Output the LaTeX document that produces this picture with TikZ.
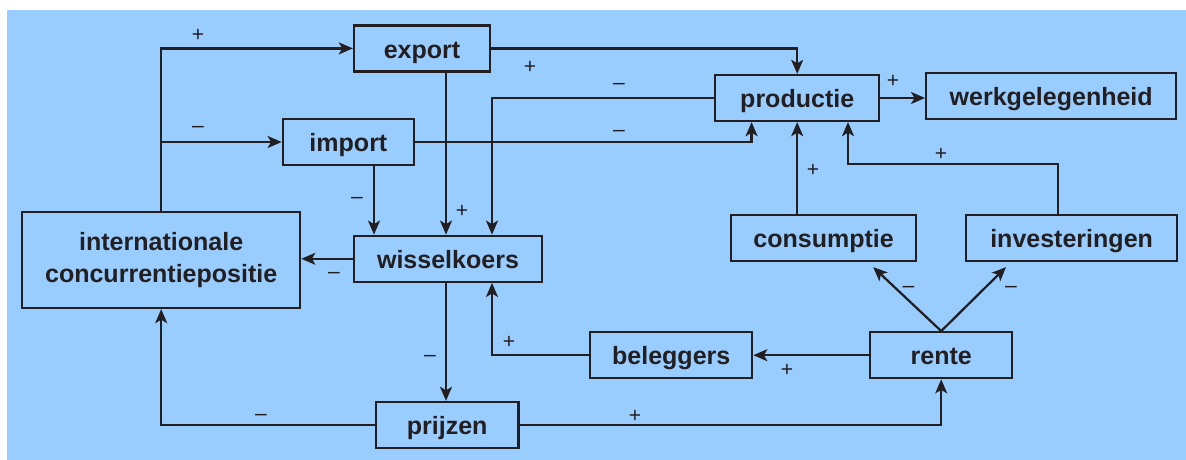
\documentclass[tikz,border=0pt]{standalone}
\usepackage{fontspec}
\setmainfont{Liberation Sans}
\usetikzlibrary{
    arrows.meta,             % For the arrow tips
    positioning,             % For relative placement of nodes
    calc                     % For coordinate calculations
}

\definecolor{skyblue}{RGB}{153,204,255}
\definecolor{inkline}{RGB}{35,31,32}

\begin{document}
\begin{tikzpicture}[
    font=\fontsize{17.8}{22}\selectfont\bfseries,
    box/.style={draw=inkline, line width=1.6pt, minimum height=1.15cm,
                inner sep=0pt, align=center, text=inkline,
                text height=15.8pt, text depth=2pt},
    link/.style={draw=inkline, line width=1.6pt,
                 -{Stealth[length=10pt, width=8.5pt, inset=2.5pt]}},
    sign/.style={font=\fontsize{15}{17}\selectfont, text=inkline, inner sep=0pt}
]
    % --- Background ---
    \useasboundingbox (0,0) rectangle (29.65,11.5);
    \fill[skyblue] (0.175,0) rectangle (29.65,11.25);

    % --- The Boxes ---
    \node[box, minimum width=3.4cm]  (export)     at (10.55,10.29) {export};
    \node[box, minimum width=3.28cm] (import)     at (8.71,7.95)   {import};
    \node[box, minimum width=4.1cm]  (productie)  at (19.93,9.05)  {productie};
    \node[box, minimum width=6.25cm] (werk)       at (26.28,9.1)   {werkgelegenheid};
    \node[box, minimum width=6.95cm, minimum height=2.4cm,
          text height=, text depth=]
                                     (concurrentie) at (4.03,5.0)
                                     {internationale\\[1pt]concurrentiepositie};
    \node[box, minimum width=4.7cm]  (wissel)     at (11.2,5.03)   {wisselkoers};
    \node[box, minimum width=4.63cm] (consumptie) at (20.59,5.55)  {consumptie};
    \node[box, minimum width=5.28cm] (invest)     at (26.79,5.55)  {investeringen};
    \node[box, minimum width=4.05cm] (beleggers)  at (16.78,2.62)  {beleggers};
    \node[box, minimum width=3.55cm] (rente)      at (23.53,2.62)  {rente};
    \node[box, minimum width=3.56cm] (prijzen)    at (11.18,0.875) {prijzen};

    % --- Entry points that sit off the box centres ---
    \coordinate (wImp)  at ([xshift=-1.85cm]wissel.north);
    \coordinate (wExp)  at ([xshift=-0.05cm]wissel.north);
    \coordinate (wProd) at ([xshift=1.1cm]wissel.north);
    \coordinate (wDown) at ([xshift=-0.05cm]wissel.south);
    \coordinate (wBel)  at ([xshift=1.1cm]wissel.south);
    \coordinate (pImp)  at ([xshift=-1.14cm]productie.south);
    \coordinate (pInv)  at ([xshift=1.27cm]productie.south);
    \coordinate (iTop)  at ([xshift=-0.34cm]invest.north);

    % --- Upper half ---
    \draw[link] (concurrentie.north) |- (export.west);
    \draw[link] (concurrentie.north) |- (import.west);
    \draw[link] (export.east) -| (productie.north);
    \draw[link] (export.south -| wExp) -- (wExp);
    \draw[link] (import.south -| wImp) -- (wImp);
    \draw[link] (import.east) -| (pImp);
    \draw[link] (productie.west) -| (wProd);
    \draw[link] (productie.east) -- (productie.east -| werk.west);
    \draw[link] (consumptie.north -| productie.south) -- (productie.south);
    \draw[link] (iTop) -- ++(0,1.25) -| (pInv);

    % --- Lower half ---
    \draw[link] (wissel.west) -- (wissel.west -| concurrentie.east);
    \draw[link] (wDown) -- (wDown |- prijzen.north);
    \draw[link] (prijzen.west) -| (concurrentie.south);
    \draw[link] (prijzen.east) -| (rente.south);
    \draw[link] (rente.west) -- (rente.west -| beleggers.east);
    \draw[link] (beleggers.west) -| (wBel);
    \draw[link] (rente.north) -- ([xshift=1.24cm, yshift=-0.125cm]consumptie.south);
    \draw[link] (rente.north) -- ([xshift=-1.64cm, yshift=-0.125cm]invest.south);

    % --- Signs on the arrows ---
    \node[sign] (sgExp)   at (4.95,10.625)  {+};
    \node[sign] (sgImp)   at (4.95,8.275)   {–};
    \node[sign] (sgExPr)  at (13.25,9.825)  {+};
    \node[sign] (sgImWi)  at (8.925,6.5)    {–};
    \node[sign] (sgExWi)  at (11.55,6.225)  {+};
    \node[sign] (sgPrWi)  at (15.475,9.35)  {–};
    \node[sign] (sgImPr)  at (15.475,8.175) {–};
    \node[sign] (sgWerk)  at (22.325,9.475) {+};
    \node[sign] (sgCons)  at (20.325,7.25)  {+};
    \node[sign] (sgInv)   at (23.525,7.65)  {+};
    \node[sign] (sgWiCo)  at (8.35,4.625)   {–};
    \node[sign] (sgWiPr)  at (10.75,2.55)   {–};
    \node[sign] (sgBeWi)  at (12.725,2.95)  {+};
    \node[sign] (sgPrCo)  at (6.525,1.075)  {–};
    \node[sign] (sgPrRe)  at (15.875,1.1)   {+};
    \node[sign] (sgReBe)  at (19.675,2.25)  {+};
    \node[sign] (sgReCo)  at (22.71,4.275)  {–};
    \node[sign] (sgReIn)  at (25.275,4.275) {–};
\end{tikzpicture}
\end{document}
